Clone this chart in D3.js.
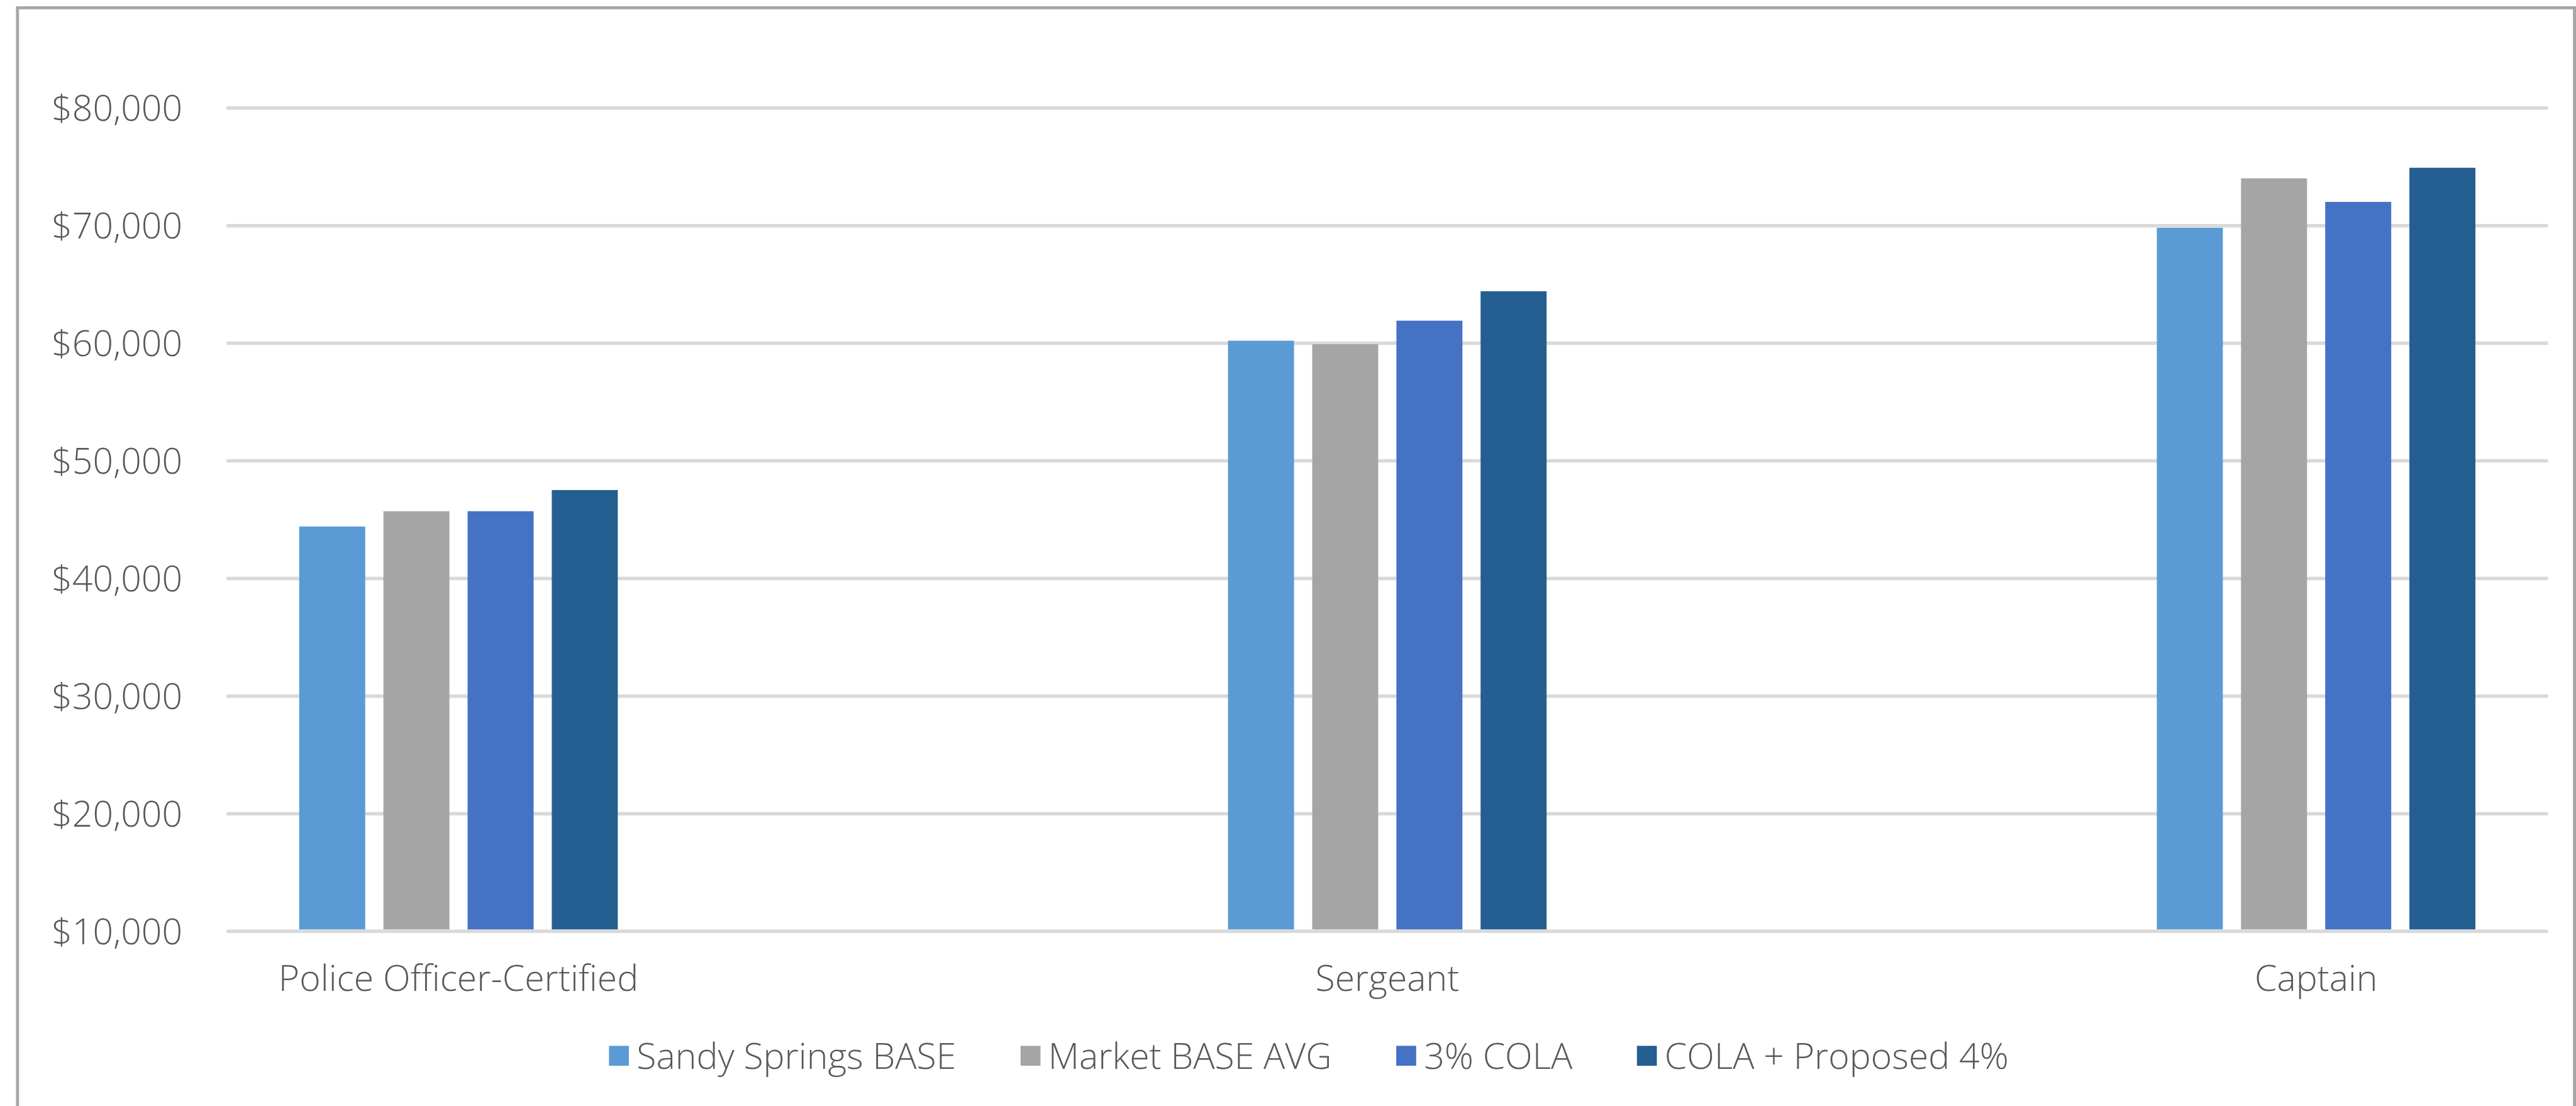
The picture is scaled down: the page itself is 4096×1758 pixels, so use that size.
<!DOCTYPE html>
<html>
<head>
<meta charset="utf-8">
<script src="https://cdn.jsdelivr.net/npm/d3@7"></script>
<style>
  html, body { margin: 0; padding: 0; background: #ffffff; }
  svg { display: block; }
  text { font-family: "Open Sans", "Segoe UI", Arial, sans-serif; font-weight: 300; fill: #595959; }
</style>
</head>
<body>
<svg id="chart"></svg>
<script>
// Salary comparison by rank
const categories = ["Police Officer-Certified", "Sergeant", "Captain"];
const seriesNames = ["Sandy Springs BASE", "Market BASE AVG", "3% COLA", "COLA + Proposed 4%"];
const sandySpringsBase = [44400, 60200, 69800];
const marketBaseAvg    = [45700, 59900, 74000];
const cola3            = [45700, 61900, 72000];
const colaProposed4    = [47500, 64400, 74900];
const yTicks = [10000, 20000, 30000, 40000, 50000, 60000, 70000, 80000];
const colors = ["#5B9BD5", "#A5A5A5", "#4472C4", "#255E91"];

const seriesValues = [sandySpringsBase, marketBaseAvg, cola3, colaProposed4];

// Drawing is laid out in a 5952 x 2555 space and scaled to the window.
const W = 5952, H = 2555;
const svg = d3.select("#chart")
  .attr("width", 4096)
  .attr("height", 1758)
  .attr("viewBox", `0 0 ${W} ${H}`);

// Chart frame
svg.append("path")
  .attr("d", `M40,${H} L40,18 L5949,18 L5949,${H}`)
  .attr("fill", "none")
  .attr("stroke", "#a6a6a6")
  .attr("stroke-width", 7);

const plot = { left: 523, right: 5888, top: 249, bottom: 2151 };

const y = d3.scaleLinear()
  .domain([10000, 80000])
  .range([plot.bottom, plot.top]);

const x0 = d3.scaleBand()
  .domain(categories)
  .range([691, 5720])
  .paddingInner(0.657)
  .paddingOuter(0);

const x1 = d3.scaleBand()
  .domain(seriesNames)
  .range([0, x0.bandwidth()])
  .paddingInner(0.216)
  .paddingOuter(0);

const fontSize = 83;

// Value axis with gridlines
const yAxis = d3.axisLeft(y)
  .tickValues(yTicks)
  .tickSize(-(plot.right - plot.left))
  .tickPadding(102)
  .tickFormat(d => "$" + d3.format(",")(d));

const gy = svg.append("g")
  .attr("transform", `translate(${plot.left},0)`)
  .call(yAxis);
gy.select(".domain").remove();
gy.selectAll(".tick line")
  .attr("stroke", "#d9d9d9")
  .attr("stroke-width", 8);
gy.selectAll(".tick text")
  .attr("font-size", fontSize)
  .attr("dy", "0.36em")
  .style("font-family", "'Open Sans', sans-serif")
  .style("font-weight", 300)
  .style("fill", "#595959");

// Bars
const rows = categories.map((c, i) => ({
  category: c,
  values: seriesNames.map((s, j) => ({ series: s, value: seriesValues[j][i], color: colors[j] }))
}));

const groups = svg.append("g")
  .selectAll("g")
  .data(rows)
  .join("g")
  .attr("transform", d => `translate(${x0(d.category)},0)`);

groups.selectAll("rect")
  .data(d => d.values)
  .join("rect")
  .attr("x", d => x1(d.series))
  .attr("width", x1.bandwidth())
  .attr("y", d => y(d.value))
  .attr("height", d => y(10000) - 4 - y(d.value))
  .attr("fill", d => d.color);

// Category labels
svg.append("g")
  .selectAll("text")
  .data(categories)
  .join("text")
  .attr("x", d => x0(d) + x0.bandwidth() / 2)
  .attr("y", 2289)
  .attr("text-anchor", "middle")
  .attr("font-size", fontSize)
  .text(d => d);

// Legend
const legend = svg.append("g");
const swatch = 46, swatchGap = 18, entryGap = 149, legendCenterY = 2439;
const entries = legend.selectAll("g")
  .data(seriesNames)
  .join("g");
entries.append("rect")
  .attr("width", swatch)
  .attr("height", swatch)
  .attr("y", legendCenterY - swatch / 2)
  .attr("fill", (d, i) => colors[i]);
entries.append("text")
  .attr("x", swatch + swatchGap)
  .attr("y", legendCenterY)
  .attr("dy", "0.36em")
  .attr("font-size", fontSize)
  .text(d => d);

let cursor = 0;
const offsets = [];
entries.each(function () {
  const tw = d3.select(this).select("text").node().getComputedTextLength();
  offsets.push(cursor);
  cursor += swatch + swatchGap + tw + entryGap;
});
const totalWidth = cursor - entryGap;
const legendStart = 3024 - totalWidth / 2;
entries.attr("transform", (d, i) => `translate(${legendStart + offsets[i]},0)`);
</script>
</body>
</html>
